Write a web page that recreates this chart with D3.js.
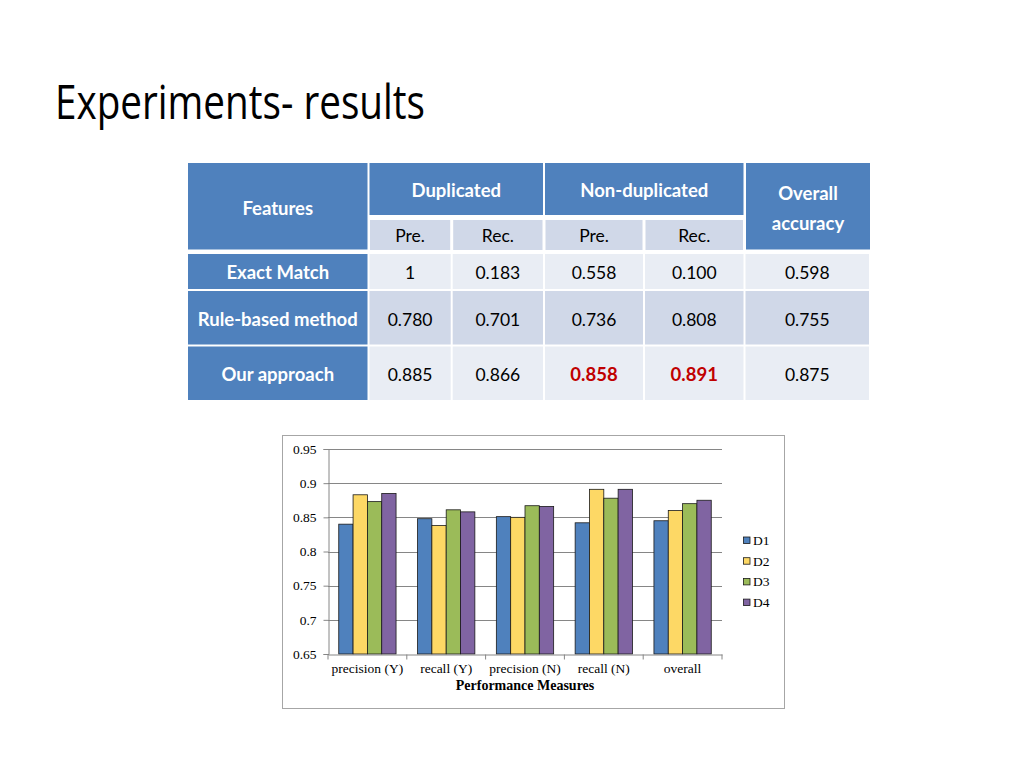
<!DOCTYPE html>
<html>
<head>
<meta charset="utf-8">
<script src="https://d3js.org/d3.v7.min.js"></script>
<style>
  body { margin: 0; background: #fff; }
  svg { display: block; }
</style>
</head>
<body>
<script>
// ---- table data ----
var groupHeaders = ["Duplicated", "Non-duplicated"];
var subHeaders = ["Pre.", "Rec.", "Pre.", "Rec."];
var methods = ["Exact Match", "Rule-based method", "Our approach"];
var tableValues = [
  ["1", "0.183", "0.558", "0.100", "0.598"],
  ["0.780", "0.701", "0.736", "0.808", "0.755"],
  ["0.885", "0.866", "0.858", "0.891", "0.875"]
];
// cells drawn in bold red: [row, column]
var highlighted = [[2, 2], [2, 3]];

// ---- chart data ----
var measures = ["precision (Y)", "recall (Y)", "precision (N)", "recall (N)", "overall"];
var datasets = ["D1", "D2", "D3", "D4"];
var valuesD1 = [0.840, 0.848, 0.851, 0.842, 0.845];
var valuesD2 = [0.883, 0.838, 0.850, 0.891, 0.860];
var valuesD3 = [0.873, 0.861, 0.867, 0.878, 0.870];
var valuesD4 = [0.885, 0.858, 0.866, 0.891, 0.875];
var yTicks = [0.65, 0.7, 0.75, 0.8, 0.85, 0.9, 0.95];

var seriesColors = ["#4f81bd", "#fdd865", "#9bbb59", "#8064a2"];

var svg = d3.select("body").append("svg")
    .attr("width", 1024)
    .attr("height", 768);

// title
svg.append("text")
    .attr("x", 55)
    .attr("y", 119)
    .attr("font-family", "Open Sans")
    .attr("font-size", 48)
    .attr("textLength", 370)
    .attr("lengthAdjust", "spacingAndGlyphs")
    .attr("fill", "#000")
    .text("Experiments- results");

// ---------------- table ----------------
var sans = "Lato";
var colEdges = [188, 368.5, 451.7, 544, 644, 744.5, 870];
var blue = "#4f81bd", light = "#e9edf4", mid = "#d0d8e8";
var tbl = svg.append("g");

function cell(x0, x1, y0, y1, fill) {
  tbl.append("rect")
      .attr("x", x0).attr("y", y0)
      .attr("width", x1 - x0).attr("height", y1 - y0)
      .attr("fill", fill);
}
function label(x, y, txt, opts) {
  opts = opts || {};
  tbl.append("text")
      .attr("x", x).attr("y", y)
      .attr("text-anchor", "middle")
      .attr("dominant-baseline", "central")
      .attr("font-family", sans)
      .attr("font-size", opts.bold ? 18.5 : 17.5)
      .attr("font-weight", opts.bold ? "bold" : "normal")
      .attr("fill", opts.fill || "#000")
      .text(txt);
}

// header block
cell(188, 367.5, 163, 249.5, blue);
label((188 + 367.5) / 2, 208, "Features", {bold: true, fill: "#fff"});
groupHeaders.forEach(function(h, i) {
  var x0 = colEdges[1 + i * 2] + 1, x1 = colEdges[3 + i * 2] - 1;
  cell(x0, x1, 163, 215, blue);
  label((x0 + x1) / 2, 190, h, {bold: true, fill: "#fff"});
});
cell(746, 870, 163, 249.5, blue);
label(808, 193, "Overall", {bold: true, fill: "#fff"});
label(808, 223, "accuracy", {bold: true, fill: "#fff"});
subHeaders.forEach(function(h, i) {
  var x0 = colEdges[1 + i] + 1.5, x1 = colEdges[2 + i] - 1.5;
  cell(x0, x1, 220, 250, mid);
  label((x0 + x1) / 2, 235.5, h);
});

// body rows
var rowEdges = [[254, 289], [291, 344.5], [346.5, 400]];
var rowCenters = [272, 319, 374];
methods.forEach(function(m, r) {
  var y0 = rowEdges[r][0], y1 = rowEdges[r][1];
  cell(188, 367.5, y0, y1, blue);
  label((188 + 367.5) / 2, rowCenters[r], m, {bold: true, fill: "#fff"});
  tableValues[r].forEach(function(v, c) {
    var x0 = colEdges[1 + c] + 1, x1 = colEdges[2 + c] - 1;
    cell(x0, x1, y0, y1, r === 1 ? mid : light);
    var hi = highlighted.some(function(h) { return h[0] === r && h[1] === c; });
    label((x0 + x1) / 2, rowCenters[r], v, {bold: hi, fill: hi ? "#c00000" : "#000"});
  });
});

// ---------------- bar chart ----------------
var serif = "Liberation Serif";
var axisGray = "#868686";

svg.append("rect")
    .attr("x", 282.5).attr("y", 435.5)
    .attr("width", 502).attr("height", 273)
    .attr("fill", "#fff")
    .attr("stroke", "#a6a6a6");

var x0 = d3.scaleBand().domain(measures).range([328, 722]);
var x1 = d3.scaleBand().domain(datasets).range([0, x0.bandwidth()]).paddingOuter(0.75);
var y = d3.scaleLinear().domain([0.65, 0.95]).range([654, 449]);

var chart = svg.append("g");

// gridlines
chart.selectAll(".grid")
    .data(yTicks.slice(1))
    .enter().append("line")
    .attr("x1", 328).attr("x2", 722)
    .attr("y1", function(d) { return Math.round(y(d)) + 0.5; })
    .attr("y2", function(d) { return Math.round(y(d)) + 0.5; })
    .attr("stroke", axisGray);

// bars
var series = [valuesD1, valuesD2, valuesD3, valuesD4];
series.forEach(function(vals, s) {
  chart.selectAll(".bar" + s)
      .data(vals)
      .enter().append("rect")
      .attr("x", function(d, i) { return x0(measures[i]) + x1(datasets[s]); })
      .attr("y", function(d) { return y(d); })
      .attr("width", x1.bandwidth())
      .attr("height", function(d) { return y(0.65) - y(d); })
      .attr("fill", seriesColors[s])
      .attr("stroke", "#1a1a1a")
      .attr("stroke-width", 0.8);
});

// y axis
var yAxis = chart.append("g")
    .attr("transform", "translate(328.5,0)")
    .call(d3.axisLeft(y).tickValues(yTicks).tickSize(5).tickPadding(7)
      .tickFormat(function(d) { return String(+d.toFixed(2)); }));
yAxis.selectAll("path, line").attr("stroke", axisGray);
yAxis.selectAll("text")
    .attr("font-family", serif).attr("font-size", 13.5).attr("fill", "#000");

// x axis
var xAxis = chart.append("g")
    .attr("transform", "translate(0,654.5)")
    .call(d3.axisBottom(x0).tickSize(0).tickPadding(9));
xAxis.select(".domain").attr("stroke", axisGray);
xAxis.selectAll("text")
    .attr("font-family", serif).attr("font-size", 13.5).attr("fill", "#000");
// ticks between categories
xAxis.selectAll(".sep")
    .data(measures.concat([null]))
    .enter().append("line")
    .attr("x1", function(d, i) { return 328 + i * x0.step(); })
    .attr("x2", function(d, i) { return 328 + i * x0.step(); })
    .attr("y1", 0).attr("y2", 5)
    .attr("stroke", axisGray);

chart.append("text")
    .attr("x", 525).attr("y", 690)
    .attr("text-anchor", "middle")
    .attr("font-family", serif).attr("font-size", 14)
    .attr("font-weight", "bold")
    .text("Performance Measures");

// legend
var legend = chart.selectAll(".legend")
    .data(datasets)
    .enter().append("g")
    .attr("transform", function(d, i) { return "translate(743," + (540.5 + i * 20.7) + ")"; });
legend.append("rect")
    .attr("x", 0.5).attr("y", -3.5)
    .attr("width", 6.5).attr("height", 6.5)
    .attr("fill", function(d, i) { return seriesColors[i]; })
    .attr("stroke", "#1a1a1a").attr("stroke-width", 0.8);
legend.append("text")
    .attr("x", 10).attr("y", 0)
    .attr("dominant-baseline", "central")
    .attr("font-family", serif).attr("font-size", 13.5)
    .text(function(d) { return d; });
</script>
</body>
</html>
